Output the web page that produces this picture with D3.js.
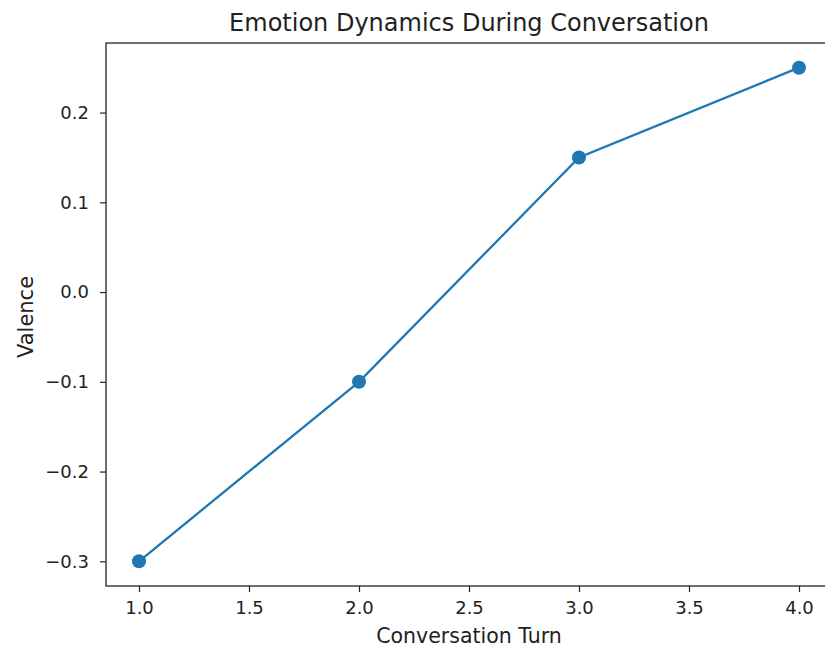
<!DOCTYPE html>
<html>
<head>
<meta charset="utf-8">
<script src="https://cdn.jsdelivr.net/npm/d3@7"></script>
<style>
  body { margin: 0; background: #fff; }
  svg, svg text { font-family: "DejaVu Sans", sans-serif; }
  .tick text { font-size: 18px; fill: #222; }
  .tick line { stroke: #222; stroke-width: 1.2; }
</style>
</head>
<body>
<svg id="chart" width="825" height="651"></svg>
<script>
// data
const turns = [1, 2, 3, 4];
const valence = [-0.3, -0.1, 0.15, 0.25];
const xTicks = [1.0, 1.5, 2.0, 2.5, 3.0, 3.5, 4.0];
const yTicks = [-0.3, -0.2, -0.1, 0.0, 0.1, 0.2];

const svg = d3.select("#chart");
const mLeft = 106, mRight = 832, mTop = 43, mBottom = 586;

const x = d3.scaleLinear().domain([0.85, 4.15]).range([mLeft, mRight]);
const y = d3.scaleLinear().domain([-0.3275, 0.2775]).range([mBottom, mTop]);

const fmt = d => d3.format(".1f")(d).replace("-", "\u2212");

/* axes */
const xAxis = svg.append("g")
  .attr("transform", `translate(0,${mBottom})`)
  .call(d3.axisBottom(x).tickValues(xTicks).tickFormat(fmt).tickSize(6).tickPadding(9));

const yAxis = svg.append("g")
  .attr("transform", `translate(${mLeft},0)`)
  .call(d3.axisLeft(y).tickValues(yTicks).tickFormat(fmt).tickSize(6).tickPadding(11));

[xAxis, yAxis].forEach(g => g.select(".domain").remove());

// frame (right side is outside the window)
svg.append("rect")
  .attr("x", mLeft).attr("y", mTop)
  .attr("width", mRight - mLeft).attr("height", mBottom - mTop)
  .attr("fill", "none").attr("stroke", "#222").attr("stroke-width", 1.3);

/* line + markers */
const pts = turns.map((t, i) => ({ t, v: valence[i] }));

svg.append("path")
  .datum(pts)
  .attr("fill", "none")
  .attr("stroke", "#1f77b4")
  .attr("stroke-width", 2.3)
  .attr("d", d3.line().x(d => x(d.t)).y(d => y(d.v)));

svg.selectAll(".dot")
  .data(pts)
  .join("circle")
  .attr("class", "dot")
  .attr("cx", d => x(d.t))
  .attr("cy", d => y(d.v))
  .attr("r", 7)
  .attr("fill", "#1f77b4");

/* labels */
svg.append("text")
  .attr("x", (mLeft + mRight) / 2)
  .attr("y", 31)
  .attr("text-anchor", "middle")
  .attr("font-size", 24)
  .attr("fill", "#222")
  .text("Emotion Dynamics During Conversation");

svg.append("text")
  .attr("x", (mLeft + mRight) / 2)
  .attr("y", 643)
  .attr("text-anchor", "middle")
  .attr("font-size", 20.5)
  .attr("fill", "#222")
  .text("Conversation Turn");

svg.append("text")
  .attr("transform", `translate(33,317) rotate(-90)`)
  .attr("text-anchor", "middle")
  .attr("font-size", 21)
  .attr("fill", "#222")
  .text("Valence");
</script>
</body>
</html>
